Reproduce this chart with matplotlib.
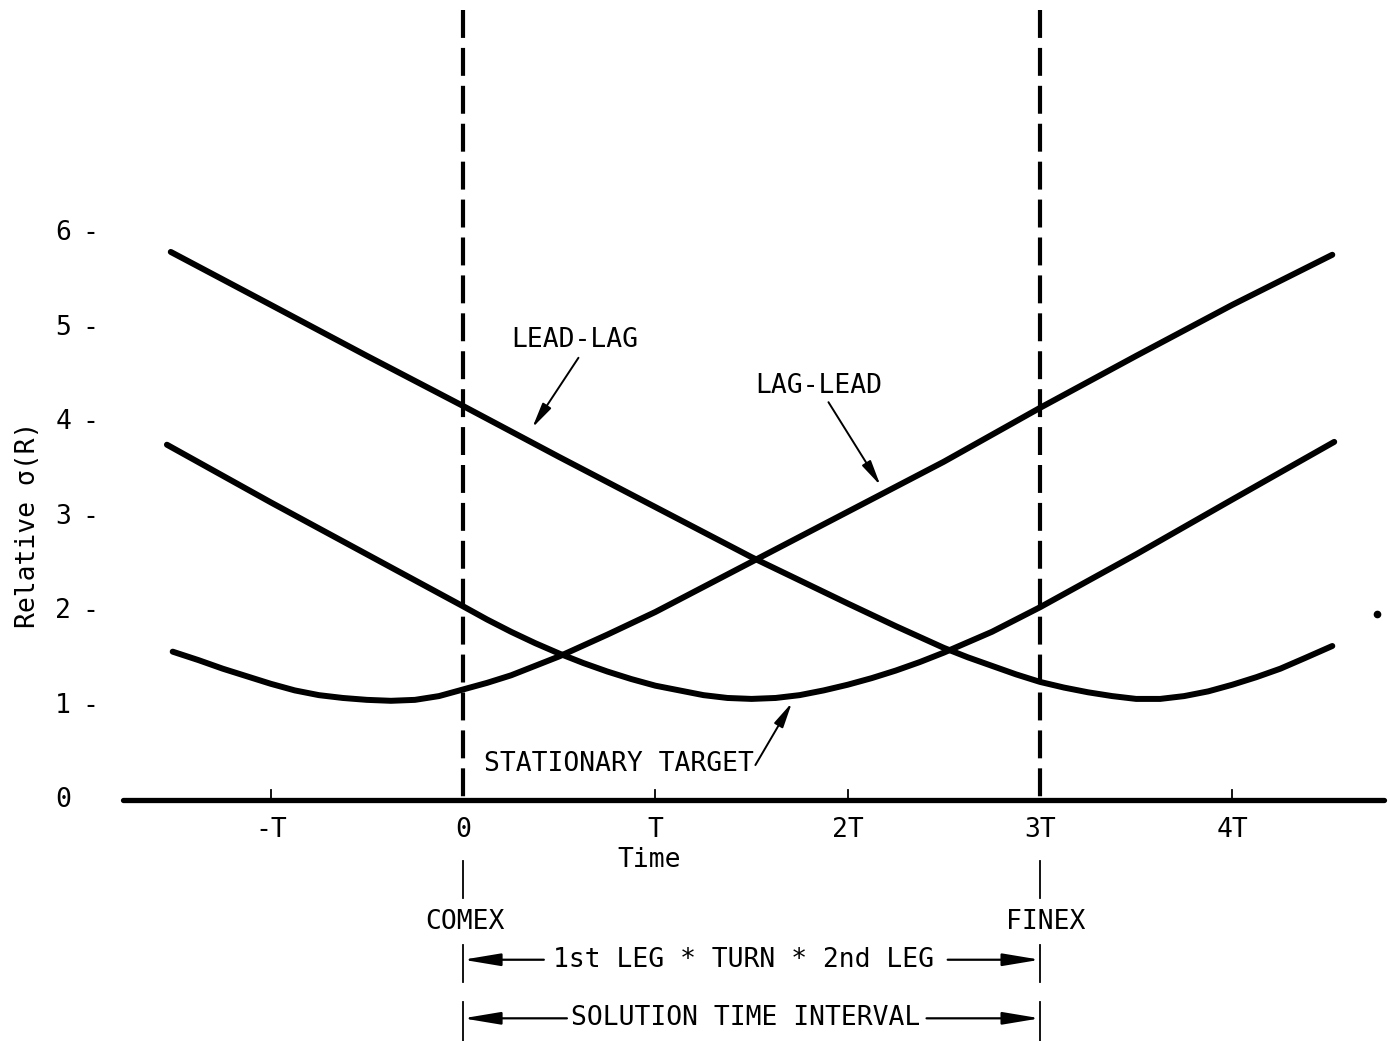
import matplotlib
matplotlib.use("Agg")
import matplotlib.pyplot as plt

# time in units of T, relative sigma(R)
t_lead_lag = [-1.52, -1.0, -0.5, 0.0, 0.5, 1.0, 1.5, 2.0, 2.25, 2.5, 2.625, 2.75, 2.875, 3.0, 3.125,
              3.25, 3.375, 3.5, 3.625, 3.75, 3.875, 4.0, 4.125, 4.25, 4.375, 4.52]
s_lead_lag = [5.80, 5.24, 4.70, 4.17, 3.63, 3.10, 2.57, 2.08, 1.84, 1.61, 1.51, 1.42, 1.33, 1.25, 1.19,
              1.14, 1.10, 1.07, 1.07, 1.10, 1.15, 1.22, 1.30, 1.39, 1.50, 1.63]

t_lag_lead = [-1.51, -1.375, -1.25, -1.125, -1.0, -0.875, -0.75, -0.625, -0.5, -0.375, -0.25, -0.125,
              0.0, 0.125, 0.25, 0.375, 0.5, 0.75, 1.0, 1.5, 2.0, 2.5, 3.0, 3.5, 4.0, 4.52]
s_lag_lead = [1.57, 1.48, 1.39, 1.31, 1.23, 1.16, 1.11, 1.08, 1.06, 1.05, 1.06, 1.10,
              1.17, 1.24, 1.32, 1.42, 1.52, 1.75, 1.99, 2.52, 3.05, 3.58, 4.15, 4.70, 5.24, 5.77]

t_stat = [-1.54, -1.0, -0.5, 0.0, 0.125, 0.25, 0.375, 0.5, 0.625, 0.75, 0.875, 1.0, 1.125, 1.25, 1.375,
          1.5, 1.625, 1.75, 1.875, 2.0, 2.125, 2.25, 2.375, 2.5, 2.625, 2.75, 2.875, 3.0, 3.5, 4.0, 4.53]
s_stat = [3.76, 3.15, 2.60, 2.05, 1.91, 1.78, 1.66, 1.55, 1.45, 1.36, 1.28, 1.21, 1.16, 1.11, 1.08,
          1.07, 1.08, 1.11, 1.16, 1.22, 1.29, 1.37, 1.46, 1.56, 1.67, 1.78, 1.91, 2.04, 2.60, 3.18, 3.79]

x_ticks = [-1, 0, 1, 2, 3, 4]
x_labels = ["-T", "0", "T", "2T", "3T", "4T"]
y_ticks = [0, 1, 2, 3, 4, 5, 6]
comex_t, finex_t = 0, 3
speck = (4.75, 1.97)

FS = 19
font = dict(family="DejaVu Sans Mono", fontsize=FS, color="black")

fig = plt.figure(figsize=(13.9, 10.41), dpi=100)
ax = fig.add_axes([0, 0, 1, 1])
ax.set_xlim(-2.408, 4.82)
ax.set_ylim(-2.55, 8.466)
ax.axis("off")

# curves
for t, s in [(t_lead_lag, s_lead_lag), (t_lag_lead, s_lag_lead), (t_stat, s_stat)]:
    ax.plot(t, s, color="black", lw=4.3, solid_capstyle="round", solid_joinstyle="round")

# time axis
ax.plot([-1.77, 4.79], [0, 0], color="black", lw=3.8, solid_capstyle="round")
for xt, lab in zip(x_ticks, x_labels):
    if xt not in (comex_t, finex_t):
        ax.plot([xt, xt], [0, 0.11], color="black", lw=1.3)
    ax.text(xt, -0.32, lab, ha="center", va="center", **font)
ax.text(0.97, -0.63, "Time", ha="center", va="center", **font)

# y labels
for yt in y_ticks:
    ax.text(-2.08, yt, str(yt), ha="center", va="center", **font)
    if yt > 0:
        ax.text(-1.94, yt, "-", ha="center", va="center", **font)
ax.text(-2.26, 2.91, "Relative \u03c3(R)", rotation=90, ha="center", va="center", **font)

# COMEX / FINEX dashed lines
for xv in (comex_t, finex_t):
    ln, = ax.plot([xv, xv], [8.36, 0.0], color="black", lw=3.0)
    ln.set_linestyle((0, (6.7, 2.4)))
    ln.set_dash_capstyle("butt")
    ax.plot([xv, xv], [-0.64, -1.04], color="black", lw=1.3)
    ax.plot([xv, xv], [-1.53, -1.93], color="black", lw=1.3)
    ax.plot([xv, xv], [-2.14, -2.55], color="black", lw=1.3)

ax.text(0.01, -1.29, "COMEX", ha="center", va="center", **font)
ax.text(3.03, -1.29, "FINEX", ha="center", va="center", **font)

head = "-|>,head_length=1.2,head_width=0.2"
def span(y, left_end, right_start, label, xc):
    ax.annotate("", xy=(comex_t, y), xytext=(left_end, y),
                arrowprops=dict(arrowstyle=head, color="black", lw=1.6, shrinkA=0, shrinkB=0),
                fontsize=FS)
    ax.annotate("", xy=(finex_t, y), xytext=(right_start, y),
                arrowprops=dict(arrowstyle=head, color="black", lw=1.6, shrinkA=0, shrinkB=0),
                fontsize=FS)
    ax.text(xc, y, label, ha="center", va="center", **font)

span(-1.69, 0.42, 2.52, "1st LEG * TURN * 2nd LEG", 1.46)
span(-2.31, 0.54, 2.41, "SOLUTION TIME INTERVAL", 1.47)

# curve labels
small_head = "-|>,head_length=0.8,head_width=0.16"
ax.text(0.58, 4.87, "LEAD-LAG", ha="center", va="center", **font)
ax.annotate("", xy=(0.36, 3.94), xytext=(0.60, 4.68),
            arrowprops=dict(arrowstyle=small_head, color="black", lw=1.4, shrinkA=0, shrinkB=0),
            fontsize=FS)
ax.text(1.85, 4.38, "LAG-LEAD", ha="center", va="center", **font)
ax.annotate("", xy=(2.17, 3.33), xytext=(1.90, 4.21),
            arrowprops=dict(arrowstyle=small_head, color="black", lw=1.4, shrinkA=0, shrinkB=0),
            fontsize=FS)
ax.text(0.81, 0.38, "STATIONARY TARGET", ha="center", va="center", **font)
ax.annotate("", xy=(1.71, 1.03), xytext=(1.52, 0.37),
            arrowprops=dict(arrowstyle=small_head, color="black", lw=1.4, shrinkA=0, shrinkB=0),
            fontsize=FS)

ax.plot([speck[0]], [speck[1]], "o", color="black", ms=4.5)

fig.savefig("out.png", dpi=100)
